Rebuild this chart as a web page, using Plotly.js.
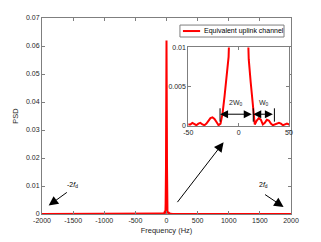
<!DOCTYPE html>
<html>
<head>
<meta charset="utf-8">
<script src="https://cdn.plot.ly/plotly-3.0.1.min.js"></script>
<style>html,body{margin:0;padding:0;background:#fff;}#chart{width:321px;height:242px;}</style>
</head>
<body>
<div id="chart"></div>
<script>
// Frequency (Hz) and PSD values
var freq = [-2000,-1000,-500,-200,-100,-80,-60,
  -50,-48,-46,-44,-42,-40,-38,-36,-34,-32,-30,-28,-26,-24,-22,-20,-18,-16,-14,-12,-10,-8,-6,-4,-2,
  0,2,4,6,8,10,12,14,16,18,20,22,24,26,28,30,32,34,36,38,40,42,44,46,48,50,
  60,80,100,200,500,1000,2000];
var psd = [0,0,0,0.00002,0.00003,0.00005,0.0001,
  0.0002,0.0002,0.0004,0.0003,0.0001,0.0003,0.0004,0.0002,0.0001,0.0003,0.0007,0.0010,0.0011,0.0009,0.0005,0.0001,0.0003,0.0016,0.0038,0.0063,0.0088,0.017,0.031,0.046,0.058,
  0.062,0.058,0.046,0.031,0.017,0.0085,0.0055,0.0025,0.0002,0.0007,0.0010,0.0008,0.0002,0.0004,0.0008,0.0007,0.0003,0.0001,0.0002,0.0004,0.0004,0.0003,0.0001,0.0002,0.0003,0.0002,
  0.0001,0.00005,0.00003,0.00002,0,0,0];

var xTickVals = [-2000,-1500,-1000,-500,0,500,1000,1500,2000];
var xTickText = ['-2000','-1500','-1000','-500','0','500','1000','1500','2000'];
var yTickVals = [0,0.01,0.02,0.03,0.04,0.05,0.06,0.07];
var insetXTickVals = [-50,0,50];
var insetXTickText = ['-50','0','50'];
var insetYTickVals = [0,0.005,0.01];
var legendLabel = 'Equivalent uplink channel';

var red = '#ff0000';
var axisCol = '#7f7f7f';
var txtCol = '#262626';
var fnt = 'Liberation Sans, Arial, sans-serif';

var traces = [
  {x: freq, y: psd, type: 'scatter', mode: 'lines', line: {color: red, width: 2}, xaxis: 'x', yaxis: 'y', showlegend: false, cliponaxis: true},
  {x: freq, y: psd, type: 'scatter', mode: 'lines', line: {color: red, width: 2}, xaxis: 'x2', yaxis: 'y2', showlegend: false, cliponaxis: true}
];

var axCommon = {showgrid: false, zeroline: false, showline: true, linecolor: axisCol, linewidth: 1, mirror: 'ticks',
  ticks: 'inside', ticklen: 3, tickcolor: axisCol, tickwidth: 1, tickfont: {family: fnt, size: 7, color: txtCol}};

var layout = {
  width: 321, height: 242,
  margin: {l: 42, r: 30, t: 18, b: 28},
  paper_bgcolor: '#ffffff', plot_bgcolor: '#ffffff',
  font: {family: fnt, size: 7, color: txtCol},
  showlegend: false,
  xaxis: Object.assign({}, axCommon, {domain: [0, 1], range: [-2000, 2000], tickvals: xTickVals, ticktext: xTickText,
    title: {text: 'Frequency (Hz)', font: {family: fnt, size: 7.5, color: txtCol}, standoff: 4}, anchor: 'y'}),
  yaxis: Object.assign({}, axCommon, {domain: [0, 1], range: [0, 0.07], tickvals: yTickVals,
    title: {text: 'PSD', font: {family: fnt, size: 7.5, color: txtCol}, standoff: 6}, anchor: 'x'}),
  xaxis2: Object.assign({}, axCommon, {domain: [0.5876, 0.992], range: [-50, 50], tickvals: insetXTickVals, ticktext: insetXTickText, anchor: 'y2'}),
  yaxis2: Object.assign({}, axCommon, {domain: [0.449, 0.850], range: [0, 0.01], tickvals: insetYTickVals, anchor: 'x2'}),
  shapes: [
    {type: 'rect', xref: 'paper', yref: 'paper', x0: 0.554, x1: 0.972, y0: 0.903, y1: 0.964, line: {color: axisCol, width: 1}, fillcolor: '#ffffff'},
    {type: 'line', xref: 'paper', yref: 'paper', x0: 0.566, x1: 0.635, y0: 0.9335, y1: 0.9335, line: {color: red, width: 2}},
    {type: 'line', xref: 'x2', yref: 'y2', x0: -18.5, x1: -18.5, y0: 0.00055, y1: 0.00225, line: {color: '#000', width: 1}},
    {type: 'line', xref: 'x2', yref: 'y2', x0: 14.5, x1: 14.5, y0: 0.00055, y1: 0.00225, line: {color: '#000', width: 1}},
    {type: 'line', xref: 'x2', yref: 'y2', x0: 35.5, x1: 35.5, y0: 0.00055, y1: 0.00225, line: {color: '#000', width: 1}}
  ],
  annotations: [
    {xref: 'paper', yref: 'paper', x: 0.643, y: 0.9335, xanchor: 'left', yanchor: 'middle', text: legendLabel, showarrow: false, font: {family: fnt, size: 7, color: '#000'}},
    // -2fd arrow
    {xref: 'x', yref: 'y', axref: 'x', ayref: 'y', x: -1893, y: 0.0030, ax: -1577, ay: 0.0081, text: '', showarrow: true, arrowhead: 2, arrowsize: 1.9, arrowwidth: 1, arrowcolor: '#000'},
    {xref: 'x', yref: 'y', x: -1510, y: 0.0102, text: '-2<i>f</i><sub>d</sub>', showarrow: false, font: {family: fnt, size: 7, color: '#000'}},
    // 2fd arrow
    {xref: 'x', yref: 'y', axref: 'x', ayref: 'y', x: 1881, y: 0.0025, ax: 1559, ay: 0.0073, text: '', showarrow: true, arrowhead: 2, arrowsize: 1.9, arrowwidth: 1, arrowcolor: '#000'},
    {xref: 'x', yref: 'y', x: 1560, y: 0.0104, text: '2<i>f</i><sub>d</sub>', showarrow: false, font: {family: fnt, size: 7, color: '#000'}},
    // big arrow to inset
    {xref: 'x', yref: 'y', axref: 'x', ayref: 'y', x: 917, y: 0.0256, ax: 157, ay: 0.0037, text: '', showarrow: true, arrowhead: 2, arrowsize: 1.9, arrowwidth: 1, arrowcolor: '#000'},
    // 2W0 double arrow
    {xref: 'x2', yref: 'y2', axref: 'x2', ayref: 'y2', x: -18.5, y: 0.0015, ax: 14.5, ay: 0.0015, text: '', showarrow: true, arrowside: 'end+start', arrowhead: 2, startarrowhead: 2, arrowsize: 1.6, startarrowsize: 1.6, arrowwidth: 1, arrowcolor: '#000'},
    {xref: 'x2', yref: 'y2', x: -2.5, y: 0.0029, text: '2W<sub>0</sub>', showarrow: false, font: {family: fnt, size: 7, color: txtCol}},
    // W0 double arrow
    {xref: 'x2', yref: 'y2', axref: 'x2', ayref: 'y2', x: 14.5, y: 0.0015, ax: 35.5, ay: 0.0015, text: '', showarrow: true, arrowside: 'end+start', arrowhead: 2, startarrowhead: 2, arrowsize: 1.6, startarrowsize: 1.6, arrowwidth: 1, arrowcolor: '#000'},
    {xref: 'x2', yref: 'y2', x: 25.5, y: 0.0029, text: 'W<sub>0</sub>', showarrow: false, font: {family: fnt, size: 7, color: txtCol}}
  ]
};

Plotly.newPlot('chart', traces, layout, {staticPlot: true, displayModeBar: false});
</script>
</body>
</html>
